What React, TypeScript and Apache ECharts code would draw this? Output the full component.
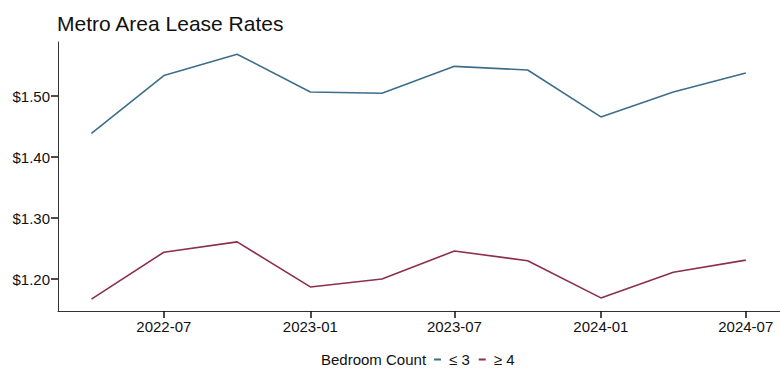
import React, { useEffect, useRef } from "react";
import * as echarts from "echarts";

const dates = [
  "2022-04-01", "2022-07-01", "2022-10-01", "2023-01-01", "2023-04-01",
  "2023-07-01", "2023-10-01", "2024-01-01", "2024-04-01", "2024-07-01",
];
const small = [1.439, 1.534, 1.569, 1.507, 1.505, 1.549, 1.543, 1.466, 1.507, 1.538];
const large = [1.167, 1.244, 1.261, 1.187, 1.2, 1.246, 1.23, 1.169, 1.211, 1.231];
const seriesNames = ["≤ 3", "≥ 4"];
const xTicks = ["2022-07-01", "2023-01-01", "2023-07-01", "2024-01-01", "2024-07-01"];
const yTicks = [1.2, 1.3, 1.4, 1.5];

const ts = (d: string) => new Date(d + "T00:00:00Z").getTime();

export default function App() {
  const ref = useRef<HTMLDivElement>(null);
  useEffect(() => {
    if (!ref.current) return;
    const chart = echarts.init(ref.current, null, { renderer: "svg" });
    const font = "'Liberation Sans', Arial, sans-serif";
    const xt = xTicks.map(ts);
    const toPts = (vals: number[]) => dates.map((d, i) => [ts(d), vals[i]]);
    chart.setOption({
      animation: false,
      backgroundColor: "#ffffff",
      title: {
        text: "Metro Area Lease Rates",
        left: 52,
        top: 8,
        textStyle: { fontFamily: font, fontSize: 21, fontWeight: "normal", color: "#111" },
      },
      grid: { left: 58, right: 0, top: 42, bottom: 60 },
      xAxis: {
        type: "value",
        min: ts("2022-02-18"),
        max: ts("2024-08-13"),
        axisLine: { show: true, onZero: false, lineStyle: { color: "#333", width: 1 } },
        axisTick: { show: true, length: 7, lineStyle: { color: "#111", width: 1.5 }, customValues: xt },
        axisLabel: {
          customValues: xt,
          fontFamily: font,
          fontSize: 15,
          color: "#111",
          margin: 8,
          formatter: (v: number) => {
            const d = new Date(v);
            const m = d.getUTCMonth() + 1;
            return d.getUTCFullYear() + "-" + (m < 10 ? "0" + m : m);
          },
        },
        splitLine: { show: false },
      },
      yAxis: {
        type: "value",
        min: 1.1475,
        max: 1.589,
        axisLine: { show: true, onZero: false, lineStyle: { color: "#333", width: 1 } },
        axisTick: { show: true, length: 7, lineStyle: { color: "#111", width: 1.5 }, customValues: yTicks },
        axisLabel: {
          customValues: yTicks,
          fontFamily: font,
          fontSize: 15,
          color: "#111",
          margin: 8,
          formatter: (v: number) => "$" + v.toFixed(2),
        },
        splitLine: { show: false },
      },
      legend: {
        left: 434,
        top: 352,
        padding: 0,
        icon: "rect",
        itemWidth: 7,
        itemHeight: 2,
        itemGap: 9,
        textStyle: { fontFamily: font, fontSize: 15, color: "#111", padding: [0, 0, 0, 3] },
        data: seriesNames,
      },
      graphic: [
        {
          type: "text",
          left: 321,
          top: 352,
          style: { text: "Bedroom Count", font: "15px 'Liberation Sans', Arial, sans-serif", fill: "#111" },
        },
      ],
      series: [
        {
          name: seriesNames[0],
          type: "line",
          data: toPts(small),
          showSymbol: false,
          lineStyle: { color: "#3d6e8a", width: 1.6 },
          itemStyle: { color: "#3d6e8a" },
        },
        {
          name: seriesNames[1],
          type: "line",
          data: toPts(large),
          showSymbol: false,
          lineStyle: { color: "#8c2f4a", width: 1.6 },
          itemStyle: { color: "#8c2f4a" },
        },
      ],
    });
    return () => chart.dispose();
  }, []);
  return <div ref={ref} style={{ width: 780, height: 371, position: "absolute", left: 0, top: 0 }} />;
}
